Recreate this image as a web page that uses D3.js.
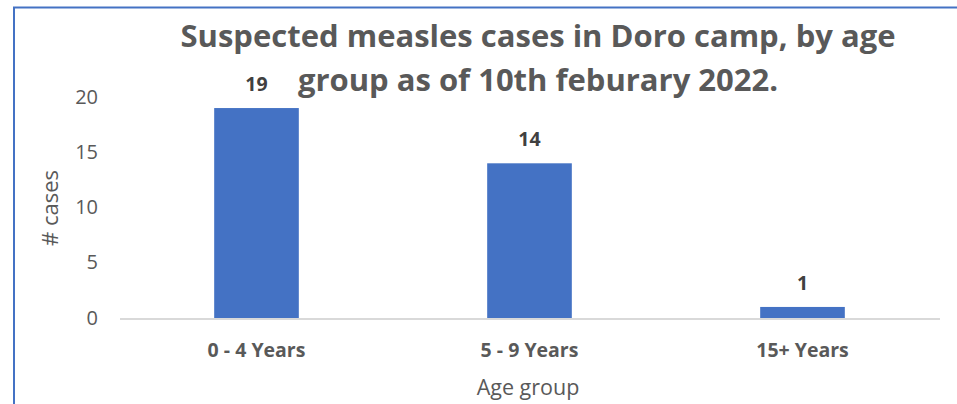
<!DOCTYPE html>
<html><head><meta charset="utf-8">
<script src="https://cdn.jsdelivr.net/npm/d3@7"></script>
<style>body{margin:0;background:#fff;} svg{display:block;font-family:"Open Sans",sans-serif;}</style>
</head><body>
<script>
const categories = ["0 - 4 Years", "5 - 9 Years", "15+ Years"];
const cases = [19, 14, 1];
const yTicks = [0, 5, 10, 15, 20];
const titleLines = ["Suspected measles cases in Doro camp, by age", "group as of 10th feburary 2022."];

const W = 957, H = 404;
const svg = d3.select("body").append("svg").attr("width", W).attr("height", H);
svg.append("rect").attr("width", W).attr("height", H).attr("fill", "#fff");
// border
svg.append("path").attr("d", `M14,${H+5} L14,7.5 L${W+5},7.5`).attr("fill","none").attr("stroke","#4472C4").attr("stroke-width",2);

const m = {left: 120, right: 939, top: 97, bottom: 318};
const x = d3.scaleBand().domain(categories).range([m.left, m.right]).paddingInner(0.69).paddingOuter(0.345);
const y = d3.scaleLinear().domain([0, 20]).range([m.bottom, m.top]);

// bars
svg.selectAll("rect.bar").data(cases).enter().append("rect").attr("class","bar")
  .attr("x", (d,i)=>x(categories[i])).attr("width", x.bandwidth())
  .attr("y", d=>y(d)).attr("height", d=>y(0)-y(d)).attr("fill","#4472C4");

// x axis line
svg.append("line").attr("x1", m.left).attr("x2", m.right+1).attr("y1", y(0)+1).attr("y2", y(0)+1)
  .attr("stroke","#d9d9d9").attr("stroke-width",2);

// y tick labels
const ya = svg.append("g").attr("transform",`translate(98,0)`)
  .call(d3.axisLeft(y).tickValues(yTicks).tickSize(0).tickPadding(0));
ya.select(".domain").remove();
ya.selectAll("text").attr("font-size",20).attr("fill","#595959").attr("font-family","Open Sans").attr("dy","0.3em");

// x tick labels
const xa = svg.append("g").attr("transform",`translate(0,${y(0)})`)
  .call(d3.axisBottom(x).tickSize(0).tickPadding(0));
xa.select(".domain").remove();
xa.selectAll("text").attr("y",39).attr("dy",null).attr("font-size",19.5).attr("font-weight","bold").attr("fill","#595959").attr("font-family","Open Sans");

// data labels
svg.selectAll("text.lbl").data(cases).enter().append("text").attr("class","lbl")
  .attr("x",(d,i)=>x(categories[i])+x.bandwidth()/2).attr("y",d=>y(d)-17)
  .attr("text-anchor","middle").attr("font-size",19.5).attr("font-weight","bold").attr("fill","#404040").text(d=>d);

// title
svg.selectAll("text.title").data(titleLines).enter().append("text").attr("class","title")
  .attr("x",538).attr("y",(d,i)=>47+i*44).attr("text-anchor","middle")
  .attr("font-size",31).attr("font-weight","bold").attr("fill","#595959").text(d=>d);

// axis titles
svg.append("text").attr("x",528).attr("y",395).attr("text-anchor","middle").attr("font-size",21.5).attr("fill","#595959").text("Age group");
svg.append("text").attr("transform","translate(58,208) rotate(-90)").attr("text-anchor","middle").attr("font-size",22).attr("fill","#595959").text("# cases");
</script>
</body></html>
